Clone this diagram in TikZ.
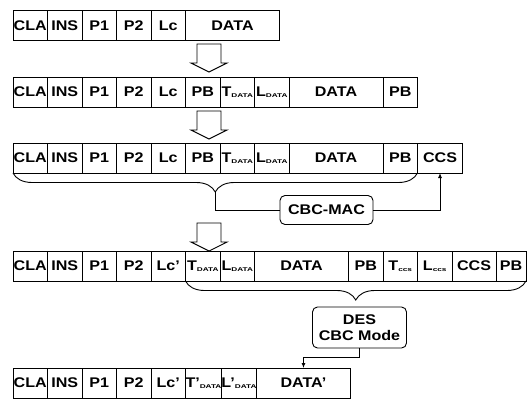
\documentclass[tikz,border=0pt]{standalone}
\usepackage{fontspec}
\setmainfont{Liberation Sans}[FakeStretch=1.15]
\usepackage{tikz}
\usetikzlibrary{arrows.meta, calc, positioning, decorations.pathreplacing}

\newcommand{\lowtag}[1]{\raisebox{-1.5pt}{\scalebox{1.3}[1]{\fontsize{5.5}{5.5}\selectfont #1}}}
\newcommand{\downblock}[1]{\draw[bigarrow, shift={(#1)}] (-12,0) -- (12,0) -- (12,19) -- (18,19) -- (0,28) -- (-18,19) -- (-12,19) -- cycle;}

\tikzset{
  cell/.style={draw, minimum height=30pt, minimum width=34.5pt, inner sep=0pt, outer sep=0pt},
  proc/.style={draw, rounded corners=5pt, align=center, inner sep=0pt, outer sep=0pt},
  bigarrow/.style={draw, fill=white, line width=0.9pt},
  lbrace/.style={decorate, decoration={brace, mirror, amplitude=19pt, aspect=0.5}},
  flow/.style={-{Latex[length=5pt,width=4pt]}},
}

\begin{document}
\begin{tikzpicture}[x=1pt, y=-1pt, line width=0.9pt,
  font=\fontsize{14pt}{16pt}\selectfont\bfseries]
\useasboundingbox (0,0) rectangle (532,401);

% row 1: plain command
\coordinate (r1c0) at (13,25.5);
\foreach \lab/\cw [count=\i, remember=\i as \j (initially 0)] in
  {CLA/34.5, INS/34.5, P1/34.5, P2/34.5, Lc/34.5, DATA/94}
  \node[cell, minimum width=\cw pt, right=0pt of r1c\j] (r1c\i) {\lab};

% row 2: padded
\coordinate (r2c0) at (13,92);
\foreach \lab/\cw [count=\i, remember=\i as \j (initially 0)] in
  {CLA/34.5, INS/34.5, P1/34.5, P2/34.5, Lc/34.5, PB/34.5,
   {T\lowtag{DATA}}/34.5, {L\lowtag{DATA}}/34.5, DATA/94, PB/34.5}
  \node[cell, minimum width=\cw pt, right=0pt of r2c\j] (r2c\i) {\lab};

% row 3: with checksum
\coordinate (r3c0) at (13,158);
\foreach \lab/\cw [count=\i, remember=\i as \j (initially 0)] in
  {CLA/34.5, INS/34.5, P1/34.5, P2/34.5, Lc/34.5, PB/34.5,
   {T\lowtag{DATA}}/34.5, {L\lowtag{DATA}}/34.5, DATA/94, PB/34.5, CCS/45}
  \node[cell, minimum width=\cw pt, right=0pt of r3c\j] (r3c\i) {\lab};

% row 4: before encryption
\coordinate (r4c0) at (13,266);
\foreach \lab/\cw [count=\i, remember=\i as \j (initially 0)] in
  {CLA/34.5, INS/34.5, P1/34.5, P2/34.5, Lc’/34.5,
   {T\lowtag{DATA}}/34.5, {L\lowtag{DATA}}/34.5, DATA/94, PB/34.5,
   {T\lowtag{ccs}}/34.5, {L\lowtag{ccs}}/34.5, CCS/44, PB/30}
  \node[cell, minimum width=\cw pt, right=0pt of r4c\j] (r4c\i) {\lab};

% row 5: encrypted
\coordinate (r5c0) at (13,383);
\foreach \lab/\cw [count=\i, remember=\i as \j (initially 0)] in
  {CLA/34.5, INS/34.5, P1/34.5, P2/34.5, Lc’/34.5,
   {T’\lowtag{DATA}}/34.5, {L’\lowtag{DATA}}/34.5, DATA’/94}
  \node[cell, minimum width=\cw pt, right=0pt of r5c\j] (r5c\i) {\lab};

% block arrows
\coordinate (go1) at (209,44);
\coordinate (go2) at (209,111);
\coordinate (go3) at (209,223);
\downblock{go1}
\downblock{go2}
\downblock{go3}

% MAC
\node[proc, minimum width=93pt, minimum height=29pt] (mac) at (326.5,210) {CBC-MAC};
\draw[lbrace] (r3c1.south west) -- (r3c10.south east);
\coordinate (mactip) at ($(r3c1.south west)!0.5!(r3c10.south east)+(0,19)$);
\draw (mactip) |- (mac.west);
\draw[flow] (mac.east) -| (r3c11.south);

% DES
\node[proc, minimum width=94pt, minimum height=41pt] (des) at (359.5,327.5) {DES\\CBC Mode};
\draw[lbrace] (r4c6.south west) -- (r4c13.south east);
\draw[flow] (des.south) -- ++(0,9) -| (r5c8.north);
\end{tikzpicture}
\end{document}
